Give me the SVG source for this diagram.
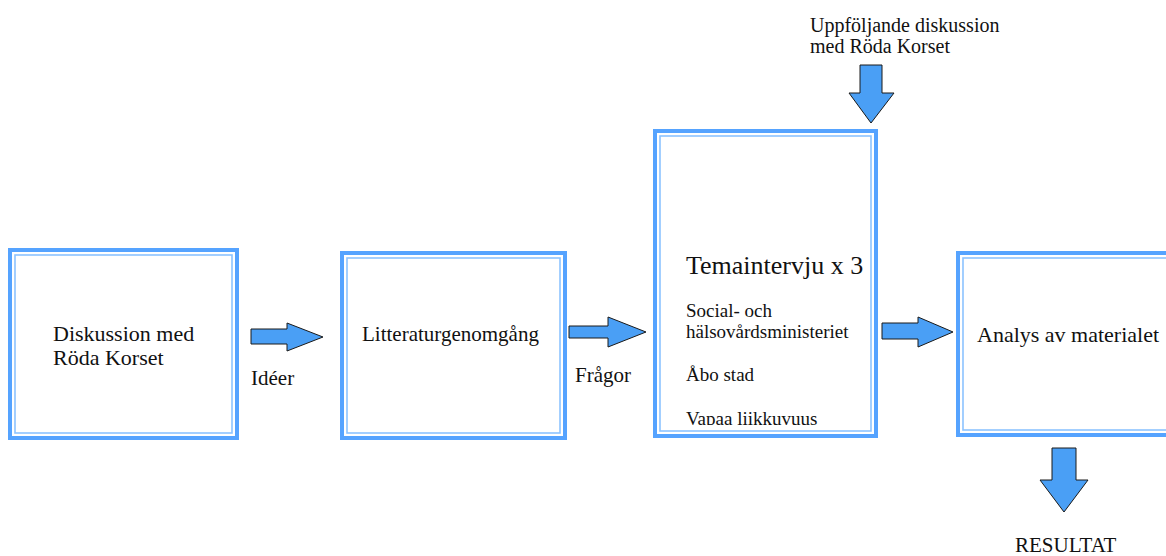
<svg xmlns="http://www.w3.org/2000/svg" width="1166" height="556" viewBox="0 0 1166 556">
<style>
.outer{fill:#fff;stroke:#55a3ff;stroke-width:4}
.inner{fill:none;stroke:#8cc3ff;stroke-width:1.6}
.arr{fill:#4a9ff5;stroke:#1a1a1a;stroke-width:1;stroke-linejoin:miter}
text{font-family:"Liberation Serif","Times New Roman",serif;fill:#111}
</style>
<defs>
<clipPath id="clip3"><rect x="657" y="133" width="218" height="292"/></clipPath>
</defs>
<rect width="1166" height="556" fill="#fff"/>
<g id="node-diskussion">
<rect class="outer" x="10" y="250" width="227" height="188"/>
<rect class="inner" x="15" y="255" width="217" height="178"/>
<text x="53" y="341" font-size="22">Diskussion med</text>
<text x="53" y="365" font-size="22">Röda Korset</text>
</g>
<g id="node-litteratur">
<rect class="outer" x="342" y="253" width="223" height="185"/>
<rect class="inner" x="347" y="258" width="213" height="175"/>
<text x="362" y="341" font-size="21">Litteraturgenomgång</text>
</g>
<g id="node-temaintervju">
<rect class="outer" x="655" y="131" width="221" height="305"/>
<rect class="inner" x="660" y="136" width="211" height="295"/>
<text x="686" y="274" font-size="26">Temaintervju x 3</text>
<g clip-path="url(#clip3)">
<text x="686" y="317" font-size="19">Social- och</text>
<text x="686" y="338" font-size="19">hälsovårdsministeriet</text>
<text x="686" y="381" font-size="19">Åbo stad</text>
<text x="686" y="425" font-size="19">Vapaa liikkuvuus</text>
</g>
</g>
<g id="node-analys">
<rect class="outer" x="958" y="253" width="220" height="182"/>
<rect class="inner" x="963" y="258" width="220" height="172"/>
<text x="977" y="342" font-size="22">Analys av materialet</text>
</g>
<g id="node-uppfoljande">
<text x="810" y="32" font-size="20">Uppföljande diskussion</text>
<text x="810" y="53" font-size="20">med Röda Korset</text>
</g>
<g id="node-resultat">
<text x="1015" y="552" font-size="21">RESULTAT</text>
</g>
<g id="connectors">
<polygon class="arr" points="251,329 287,329 287,323 323,337 287,351 287,344 251,344"/>
<text x="251" y="385" font-size="21">Idéer</text>
<polygon class="arr" points="569,326 608,326 608,317 646,332 608,347 608,338 569,338"/>
<text x="575" y="382" font-size="21">Frågor</text>
<polygon class="arr" points="882,323 918,323 918,317 953,332 918,347 918,339 882,339"/>
<polygon class="arr" points="860,65 882,65 882,93 894,93 871,123 849,93 860,93"/>
<polygon class="arr" points="1052,448 1076,448 1076,480 1088,480 1064,512 1040,480 1052,480"/>
</g>
</svg>
